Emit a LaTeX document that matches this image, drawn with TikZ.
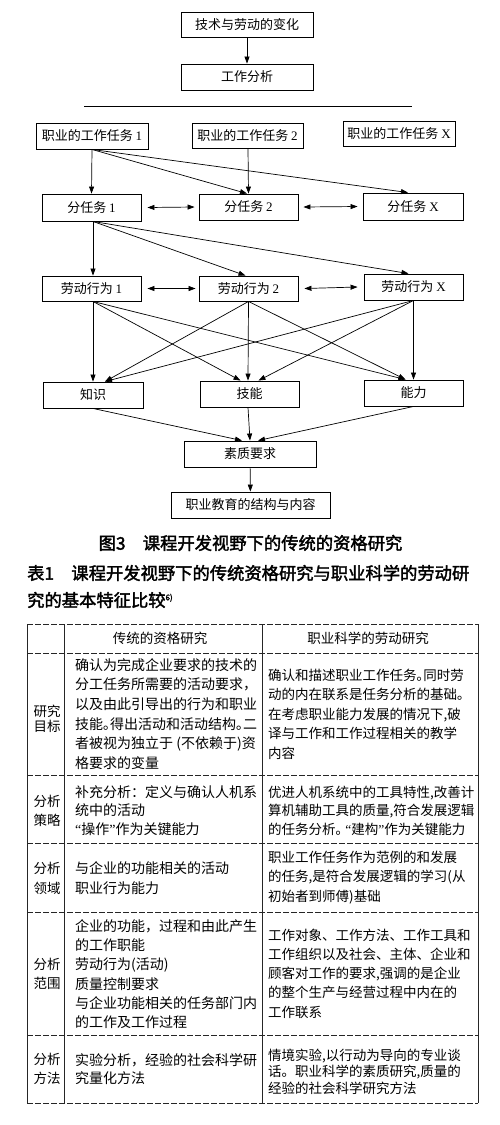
\documentclass[tikz,border=0pt]{standalone}
\usepackage{fontspec}
\setmainfont{Noto Sans CJK SC}
\newfontfamily\hei[FakeBold=2]{Noto Sans CJK SC}
\newfontfamily\lat{Liberation Serif}
\usetikzlibrary{arrows.meta,calc}
\newcommand\myLq{{\lat “}}
\newcommand\myRq{{\lat ”}}
\tikzset{
  box/.style={draw, line width=0.9pt, inner sep=0pt, font=\fontsize{13}{15}\selectfont},
  arr/.style={-{Triangle[length=7pt,width=5pt]}, line width=0.7pt},
  darr/.style={{Triangle[length=7pt,width=5pt]}-{Triangle[length=7pt,width=5pt]}, line width=0.7pt},
  hline/.style={line width=0.6pt, dash pattern=on 6pt off 2pt, black!85},
  vline/.style={line width=0.6pt, black!85},
  lcell/.style={anchor=west, align=left, inner sep=0pt, font=\fontsize{14}{19.6}\selectfont},
  rcell/.style={anchor=west, align=left, inner sep=0pt, font=\fontsize{13.5}{19.5}\selectfont},
  lab/.style={anchor=center, align=center, inner sep=0pt, font=\fontsize{13.5}{19}\selectfont},
  captext/.style={inner sep=0pt, font=\hei\fontsize{17.3}{20}\selectfont}
}
\begin{document}
\begin{tikzpicture}[x=1pt,y=-1pt]
\useasboundingbox[fill=white] (0,0) rectangle (500,1125);

% ---------- diagram ----------
\node[box, minimum width=132pt, minimum height=25pt] (A) at (247,24.5) {技术与劳动的变化};
\node[box, minimum width=132pt, minimum height=26pt] (B) at (247,77) {工作分析};
\draw[line width=0.8pt] (84,106) -- (412,106);

\node[box, minimum width=112pt, minimum height=26pt] (T1) at (92,136) {职业的工作任务 {\lat 1}};
\node[box, minimum width=111pt, minimum height=25pt] (T2) at (247.5,135.5) {职业的工作任务 {\lat 2}};
\node[box, minimum width=112pt, minimum height=25pt] (TX) at (399,133.5) {职业的工作任务 {\lat X}};

\node[box, minimum width=99pt, minimum height=27pt] (S1) at (91.5,207.5) {分任务 {\lat 1}};
\node[box, minimum width=99pt, minimum height=26pt] (S2) at (248.5,207) {分任务 {\lat 2}};
\node[box, minimum width=100pt, minimum height=27pt] (SX) at (413,206.5) {分任务 {\lat X}};

\node[box, minimum width=99pt, minimum height=25pt] (L1) at (91.5,288.5) {劳动行为 {\lat 1}};
\node[box, minimum width=99pt, minimum height=25pt] (L2) at (248.5,288.5) {劳动行为 {\lat 2}};
\node[box, minimum width=99pt, minimum height=26pt] (LX) at (413.5,287) {劳动行为 {\lat X}};

\node[box, minimum width=100pt, minimum height=26pt] (K) at (93,395) {知识};
\node[box, minimum width=99pt, minimum height=26pt] (Sk) at (249.5,394) {技能};
\node[box, minimum width=99pt, minimum height=26pt] (Ab) at (413.5,393) {能力};

\node[box, minimum width=132pt, minimum height=26pt] (Q) at (250,454) {素质要求};
\node[box, minimum width=159pt, minimum height=26pt] (V) at (250.5,505) {职业教育的结构与内容};

\draw[arr] (A) -- (B);
\draw[arr] (T1.south) -- (S1.north);
\draw[arr] (T1.south) -- ([xshift=-1.5pt]S2.north);
\draw[arr] (T1.south) -- ([xshift=-5pt]SX.north);
\draw[arr] ([xshift=0.5pt]T2.south) -- (S2.north);

\draw[darr] ([xshift=6pt]S1.east) -- ([xshift=-4pt]S2.west);
\draw[darr] ([xshift=5pt]S2.east) -- ([xshift=-5pt]SX.west);

\draw[arr] ([xshift=1.5pt]S1.south) -- ([xshift=1.5pt]L1.north);
\draw[arr] ([xshift=1.5pt]S1.south) -- ([xshift=-3pt]L2.north);
\draw[arr] ([xshift=1.5pt]S1.south) -- ([xshift=-5pt]LX.north);

\draw[darr] ([xshift=6pt]L1.east) -- ([xshift=-3pt]L2.west);
\draw[darr] ([xshift=6pt]L2.east) -- ([xshift=-6pt]LX.west);

\draw[arr] ([xshift=1.5pt]L1.south) -- (K.north);
\draw[arr] ([xshift=1.5pt]L1.south) -- ([xshift=-9pt]Sk.north);
\draw[arr] ([xshift=1.5pt]L1.south) -- ([xshift=-8pt]Ab.north);
\draw[arr] (L2.south) -- ([xshift=12pt]K.north);
\draw[arr] (L2.south) -- ([xshift=-1.5pt]Sk.north);
\draw[arr] (L2.south) -- ([xshift=-8pt]Ab.north);
\draw[arr] (LX.south) -- ([xshift=12pt]K.north);
\draw[arr] (LX.south) -- ([xshift=9pt]Sk.north);
\draw[arr] (LX.south) -- (Ab.north);

\draw[arr] (K.south) -- ([xshift=-8pt]Q.north);
\draw[arr] ([xshift=-1.5pt]Sk.south) -- (Q.north);
\draw[arr] (Ab.south) -- ([xshift=8pt]Q.north);
\draw[arr] (Q) -- (V);

% ---------- captions ----------
\node[captext] (cap3) at (250.5,543) {图3\hspace{1em}课程开发视野下的传统的资格研究};
\node[captext, anchor=west] (tt1) at (27,573) {表1\hspace{1em}课程开发视野下的传统资格研究与职业科学的劳动研};
\node[captext, anchor=west] (tt2) at (27,600) {究的基本特征比较\textsuperscript{\fontsize{8}{8}\selectfont 6)}};

% ---------- table ----------
\foreach \yy in {624,653,775,843,912,1035,1103} \draw[hline] (27,\yy) -- (478,\yy);
\foreach \xx in {27,64,262,478} \draw[vline] (\xx,624) -- (\xx,1103);

\node[lab] (h1) at (160,638.5) {传统的资格研究};
\node[lab] (h2) at (368,638.5) {职业科学的劳动研究};

\node[lab, font=\fontsize{13.5}{14.5}\selectfont] (r1) at (47,719) {研究\\目标};
\node[lcell] (r1l) at (75,714) {确认为完成企业要求的技术的\\分工任务所需要的活动要求，\\以及由此引导出的行为和职业\\技能｡得出活动和活动结构｡二\\者被视为独立于 (不依赖于)资\\格要求的变量};
\node[rcell] (r1r) at (268,714) {确认和描述职业工作任务｡同时劳\\动的内在联系是任务分析的基础｡\\在考虑职业能力发展的情况下,破\\译与工作和工作过程相关的教学\\内容};

\node[lab] (r2) at (47,811) {分析\\策略};
\node[lcell, font=\fontsize{14}{18.5}\selectfont] (r2l) at (75,810.5) {补充分析：定义与确认人机系\\统中的活动\\\myLq 操作\myRq 作为关键能力};
\node[rcell, font=\fontsize{13.5}{18.5}\selectfont] (r2r) at (268,810.5) {优进人机系统中的工具特性,改善计\\算机辅助工具的质量,符合发展逻辑\\的任务分析｡ \myLq 建构\myRq 作为关键能力};

\node[lab, font=\fontsize{13.5}{20}\selectfont] (r3) at (47,878) {分析\\领域};
\node[lcell, font=\fontsize{14}{20}\selectfont] (r3l) at (75,878) {与企业的功能相关的活动\\职业行为能力};
\node[rcell] (r3r) at (268,877.5) {职业工作任务作为范例的和发展\\的任务,是符合发展逻辑的学习(从\\初始者到师傅)基础};

\node[lab, font=\fontsize{13.5}{18.5}\selectfont] (r4) at (47,974) {分析\\范围};
\node[lcell, font=\fontsize{14}{19.2}\selectfont] (r4l) at (75,974) {企业的功能，过程和由此产生\\的工作职能\\劳动行为(活动)\\质量控制要求\\与企业功能相关的任务部门内\\的工作及工作过程};
\node[rcell, font=\fontsize{13.5}{19.25}\selectfont] (r4r) at (268,973.5) {工作对象、工作方法、工作工具和\\工作组织以及社会、主体、企业和\\顾客对工作的要求,强调的是企业\\的整个生产与经营过程中内在的\\工作联系};

\node[lab, font=\fontsize{13.5}{18.5}\selectfont] (r5) at (47,1069) {分析\\方法};
\node[lcell, font=\fontsize{14}{18.5}\selectfont] (r5l) at (75,1069) {实验分析，经验的社会科学研\\究量化方法};
\node[rcell, font=\fontsize{13.5}{16.5}\selectfont] (r5r) at (268,1071.5) {情境实验,以行动为导向的专业谈\\话。职业科学的素质研究,质量的\\经验的社会科学研究方法};
\end{tikzpicture}
\end{document}
